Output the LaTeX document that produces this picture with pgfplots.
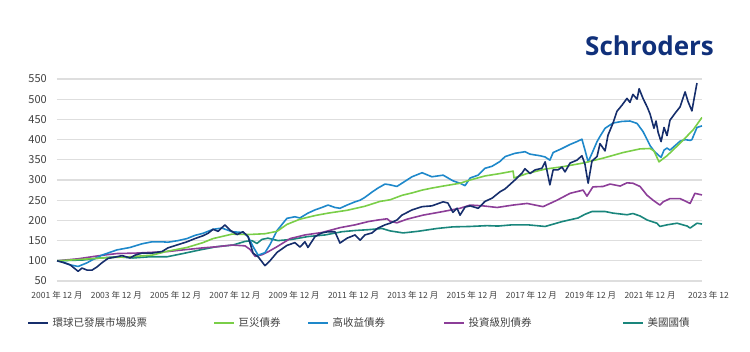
\documentclass[border=0pt]{standalone}
\usepackage{pgfplots}
\pgfplotsset{compat=1.18}
\usepackage{fontspec}
\setmainfont{Noto Sans CJK TC}
\newfontfamily\logofont{Open Sans}
\definecolor{cNavy}{RGB}{22,46,108}
\definecolor{cGreen}{RGB}{122,206,72}
\definecolor{cBlue}{RGB}{30,136,202}
\definecolor{cPurple}{RGB}{140,62,152}
\definecolor{cTeal}{RGB}{26,134,124}
\definecolor{textgray}{RGB}{64,64,64}
\definecolor{gridgray}{RGB}{222,222,222}
\definecolor{logoblue}{RGB}{16,48,122}

\pgfplotstableread{
t v
2001.92 100
2002.12 96
2002.36 90
2002.63 74
2002.76 82
2002.93 77
2003.10 77
2003.27 85
2003.43 95
2003.64 106
2003.94 110
2004.11 113
2004.38 107
2004.55 114
2004.78 119
2005.12 119
2005.46 123
2005.66 132
2006.00 140
2006.30 147
2006.57 155
2006.84 162
2007.01 168
2007.18 178
2007.35 173
2007.58 189
2007.75 176
2007.99 165
2008.19 172
2008.36 160
2008.53 119
2008.70 110
2008.93 88
2009.10 100
2009.34 121
2009.67 138
2009.94 145
2010.11 134
2010.28 147
2010.38 133
2010.62 160
2010.85 169
2011.06 172
2011.29 172
2011.46 144
2011.70 156
2011.97 164
2012.14 151
2012.30 164
2012.54 169
2012.74 181
2012.98 189
2013.15 193
2013.38 201
2013.55 213
2013.89 226
2014.23 234
2014.56 236
2014.94 246
2015.10 243
2015.27 220
2015.41 230
2015.51 213
2015.68 233
2015.85 236
2016.12 230
2016.35 247
2016.59 255
2016.86 271
2017.03 278
2017.36 300
2017.60 317
2017.70 328
2017.87 316
2018.04 325
2018.27 329
2018.38 345
2018.54 288
2018.65 325
2018.81 325
2018.95 332
2019.05 320
2019.22 342
2019.45 349
2019.62 360
2019.72 340
2019.83 292
2019.96 347
2020.13 358
2020.23 390
2020.40 372
2020.50 411
2020.67 441
2020.80 470
2020.97 485
2021.14 502
2021.24 492
2021.34 512
2021.48 500
2021.55 526
2021.68 502
2021.82 481
2021.92 463
2022.05 428
2022.12 446
2022.19 418
2022.29 395
2022.39 430
2022.49 410
2022.59 448
2022.76 465
2022.93 481
2023.10 518
2023.20 494
2023.33 471
2023.40 500
2023.50 540
}\equities

\pgfplotstableread{
t v
2001.92 100
2002.12 97
2002.36 90
2002.63 86
2002.93 95
2003.10 102
2003.43 114
2003.94 127
2004.38 133
2004.78 142
2005.12 147
2005.46 147
2005.66 146
2006.00 150
2006.30 155
2006.57 163
2006.84 168
2007.18 178
2007.48 181
2007.82 172
2008.19 170
2008.36 160
2008.53 135
2008.70 114
2008.93 120
2009.10 140
2009.34 175
2009.67 205
2009.94 209
2010.11 206
2010.38 218
2010.62 226
2010.85 232
2011.06 238
2011.29 232
2011.46 230
2011.70 238
2011.97 246
2012.14 250
2012.30 257
2012.54 270
2012.74 280
2012.98 290
2013.15 288
2013.38 284
2013.55 292
2013.89 308
2014.23 318
2014.56 308
2014.94 312
2015.27 298
2015.51 292
2015.68 286
2015.85 305
2016.12 312
2016.35 329
2016.59 334
2016.86 346
2017.03 358
2017.36 366
2017.70 370
2017.87 364
2018.21 360
2018.38 357
2018.54 349
2018.65 368
2018.95 378
2019.22 388
2019.45 395
2019.62 401
2019.72 375
2019.83 345
2019.96 366
2020.13 395
2020.23 408
2020.40 428
2020.67 441
2020.97 445
2021.24 446
2021.48 440
2021.68 420
2021.82 400
2021.92 385
2022.05 372
2022.19 362
2022.29 356
2022.39 374
2022.49 379
2022.59 374
2022.76 385
2022.93 396
2023.10 400
2023.27 398
2023.33 400
2023.50 430
2023.67 434
}\highyield

\pgfplotstableread{
t v
2001.92 100
2002.63 103
2003.43 107
2004.38 110
2005.12 114
2005.66 124
2006.30 133
2006.84 145
2007.18 155
2007.82 166
2008.36 165
2008.93 167
2009.34 173
2009.67 190
2010.11 203
2010.62 212
2011.06 218
2011.70 225
2012.30 235
2012.81 247
2013.15 251
2013.55 262
2013.89 268
2014.23 275
2014.56 280
2014.94 285
2015.51 292
2015.85 300
2016.35 310
2016.86 316
2017.30 322
2017.33 305
2017.77 316
2018.38 327
2018.98 333
2019.66 342
2020.33 354
2021.01 368
2021.58 377
2021.92 378
2022.05 372
2022.22 345
2022.49 360
2022.93 391
2023.37 424
2023.67 455
}\catbonds

\pgfplotstableread{
t v
2001.92 100
2002.63 105
2003.37 113
2003.94 118
2004.55 119
2005.12 121
2005.66 123
2006.30 128
2006.84 132
2007.35 135
2007.82 139
2008.26 137
2008.43 128
2008.60 111
2008.83 115
2009.03 122
2009.34 135
2009.78 155
2010.28 164
2010.85 170
2011.46 182
2011.97 189
2012.41 197
2012.74 201
2013.05 204
2013.15 198
2013.38 194
2013.72 203
2014.26 213
2014.94 222
2015.51 230
2015.85 238
2016.28 236
2016.76 232
2017.30 238
2017.77 242
2018.31 234
2018.78 250
2019.22 267
2019.66 275
2019.79 260
2019.99 283
2020.33 284
2020.57 290
2020.91 285
2021.14 293
2021.34 292
2021.58 284
2021.82 262
2022.02 250
2022.25 238
2022.36 246
2022.59 254
2022.93 254
2023.27 242
2023.43 267
2023.67 263
}\invgrade

\pgfplotstableread{
t v
2001.92 100
2002.79 102
2003.37 107
2003.94 110
2004.48 107
2005.05 110
2005.63 110
2006.17 118
2006.74 127
2007.31 135
2007.85 139
2008.26 148
2008.49 150
2008.66 143
2008.83 153
2009.03 156
2009.37 150
2009.84 153
2010.38 160
2010.96 164
2011.53 172
2011.97 175
2012.41 177
2012.88 180
2013.15 174
2013.59 169
2014.09 173
2014.73 180
2015.27 184
2015.85 185
2016.42 187
2016.79 186
2017.26 189
2017.80 189
2018.38 185
2018.95 197
2019.49 206
2019.72 215
2019.96 222
2020.40 222
2020.67 218
2021.14 214
2021.34 217
2021.58 211
2021.82 201
2022.15 193
2022.25 185
2022.49 189
2022.83 193
2023.17 186
2023.27 181
2023.50 193
2023.67 191
}\treasuries

\begin{document}
\begin{tikzpicture}
\useasboundingbox (-57pt,-70pt) rectangle (693pt,281pt);
\begin{axis}[
  at={(0pt,0pt)}, anchor=south west,
  scale only axis, width=645pt, height=202pt,
  xmin=2001.917, xmax=2023.67, ymin=50, ymax=550,
  axis line style={draw=none},
  tick style={draw=none},
  ytick={50,100,...,550},
  ymajorgrids,
  major grid style={draw=gridgray, line width=1.3pt},
  xtick={2001.917,2003.917,2005.917,2007.917,2009.917,2011.917,2013.917,2015.917,2017.917,2019.917,2021.917},
  xticklabels={2001 年 12 月,2003 年 12 月,2005 年 12 月,2007 年 12 月,2009 年 12 月,2011 年 12 月,2013 年 12 月,2015 年 12 月,2017 年 12 月,2019 年 12 月,2021 年 12 月},
  xticklabel style={font=\fontsize{8.5}{10}\selectfont, text=textgray, anchor=center, inner sep=0pt, yshift=-14.5pt},
  yticklabel style={font=\fontsize{11}{12}\selectfont, text=textgray, anchor=east, inner sep=0pt, xshift=-10pt},
  /pgf/number format/assume math mode=true,
  legend columns=5,
  reverse legend,
  legend image code/.code={\draw[#1, line width=2pt] (0pt,0pt) -- (20pt,0pt);},
  legend style={draw=none, fill=none, at={(0,0)}, anchor=west, xshift=-30pt, yshift=-41.5pt,
    inner sep=0pt, column sep=0pt,
    nodes={inner sep=0pt, text=textgray, font=\fontsize{10.5}{12}\selectfont},
    /tikz/every odd column/.append style={column sep=3.5pt}},
  every axis plot/.append style={line width=1.6pt, line join=round},
]
\addplot[cTeal] table[x=t, y=v] {\treasuries};
\addlegendentry{\makebox[50pt][l]{美國國債}}
\addplot[cPurple] table[x=t, y=v] {\invgrade};
\addlegendentry{\makebox[153.5pt][l]{投資級別債券}}
\addplot[cBlue] table[x=t, y=v] {\highyield};
\addlegendentry{\makebox[110.5pt][l]{高收益債券}}
\addplot[cGreen] table[x=t, y=v] {\catbonds};
\addlegendentry{\makebox[68.5pt][l]{巨災債券}}
\addplot[cNavy] table[x=t, y=v] {\equities};
\addlegendentry{\makebox[160.5pt][l]{環球已發展市場股票}}
\end{axis}
\node[anchor=west, inner sep=0pt, font=\fontsize{8.5}{10}\selectfont, text=textgray] at (631pt,-14.5pt) {2023 年 12};
\node[anchor=base west, inner sep=0pt, font=\logofont\bfseries\fontsize{26}{26}\selectfont, text=logoblue] at (528pt,225pt) {Schroders};
\end{tikzpicture}
\end{document}
